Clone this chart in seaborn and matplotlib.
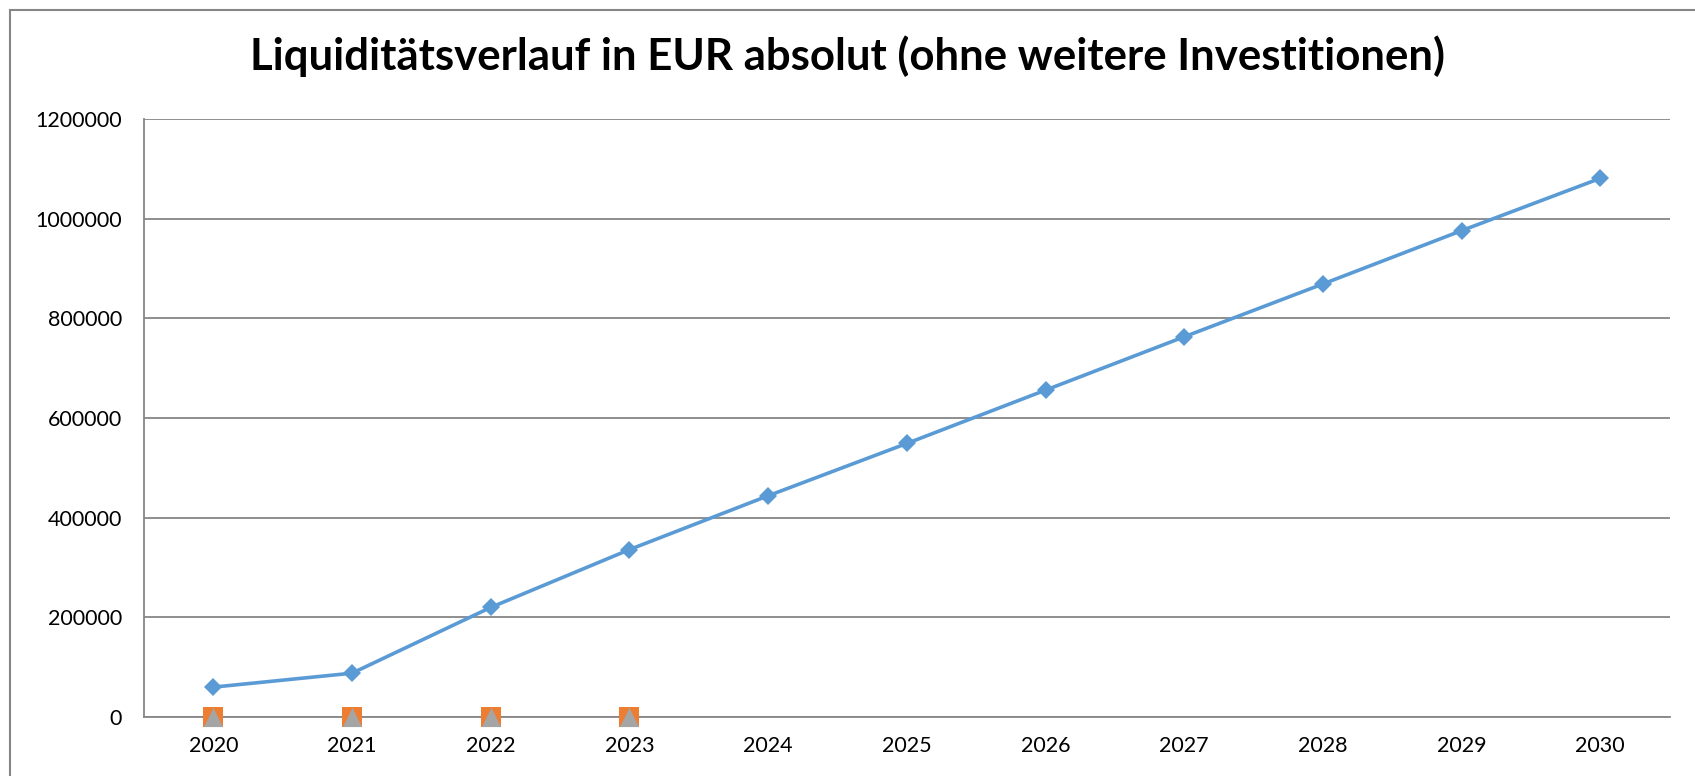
import matplotlib.pyplot as plt
import seaborn as sns
import pandas as pd
from matplotlib.patches import Rectangle

YEARS = ["2020", "2021", "2022", "2023", "2024", "2025", "2026", "2027", "2028", "2029", "2030"]
LIQUIDITY = [60000, 88000, 220000, 336000, 444000, 549000, 656000, 763000, 869000, 976000, 1081000]
YEARS_SHORT = ["2020", "2021", "2022", "2023"]
SERIES_2 = [0, 0, 0, 0]
SERIES_3 = [0, 0, 0, 0]
Y_TICKS = [0, 200000, 400000, 600000, 800000, 1000000, 1200000]
TITLE = "Liquiditätsverlauf in EUR absolut (ohne weitere Investitionen)"

sns.set_theme(style="white")
plt.rcParams["font.family"] = ["Lato", "DejaVu Sans"]
plt.rcParams["text.color"] = "black"

df = pd.DataFrame({"year": YEARS, "value": LIQUIDITY})
df2 = pd.DataFrame({"year": YEARS_SHORT, "s2": SERIES_2, "s3": SERIES_3})

fig = plt.figure(figsize=(16.95, 7.76), dpi=100)
ax = fig.add_axes([0.085, 0.076, 0.9, 0.7706])

sns.lineplot(data=df, x="year", y="value", ax=ax, color="#5B9BD5", linewidth=2.6,
             marker="D", markersize=9, markeredgewidth=0, sort=False, zorder=3)
sns.scatterplot(data=df2, x="year", y="s2", ax=ax, color="#ED7D31", marker="s", s=200,
                linewidth=0, zorder=4, clip_on=False)
sns.scatterplot(data=df2, x="year", y="s3", ax=ax, color="#A5A5A5", marker="^", s=190,
                linewidth=0, zorder=5, clip_on=False)

ax.set_xlim(-0.5, len(YEARS) - 0.5)
ax.set_ylim(0, 1200000)
ax.set_yticks(Y_TICKS)
ax.set_yticklabels([str(v) for v in Y_TICKS])
ax.yaxis.grid(True, color="#868686", linewidth=1.3)
ax.set_axisbelow(True)
ax.set_xlabel("")
ax.set_ylabel("")
ax.tick_params(axis="both", length=0, labelsize=15.5, colors="black")
ax.tick_params(axis="y", pad=16)
ax.tick_params(axis="x", pad=14)
for side in ["top", "right"]:
    ax.spines[side].set_visible(False)
for side in ["left", "bottom"]:
    ax.spines[side].set_color("#868686")
    ax.spines[side].set_linewidth(1.3)
ax.spines["bottom"].set_zorder(2)

fig.text(0.5, 0.928, TITLE, ha="center", va="center", fontsize=31.5, fontweight="bold", color="black")

# outer chart frame (partially cut off at right/bottom)
fig.patches.append(Rectangle((10 / 1695, -0.1), 1.2, 1 - 10 / 776 + 0.1, transform=fig.transFigure,
                             fill=False, edgecolor="#868686", linewidth=1.5))

fig.savefig("out.png", dpi=100)
